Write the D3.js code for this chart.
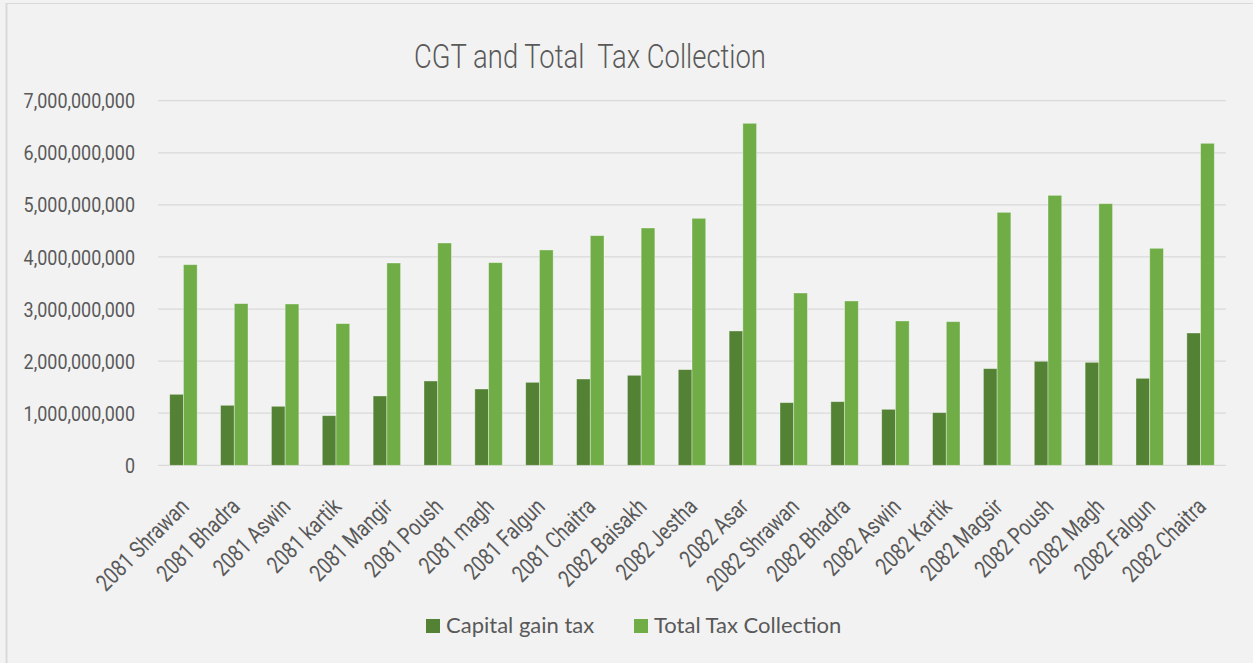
<!DOCTYPE html>
<html>
<head>
<meta charset="utf-8">
<script src="https://cdn.jsdelivr.net/npm/d3@7"></script>
<style>
  html, body { margin: 0; padding: 0; background: #f2f2f2; }
  svg { display: block; }
  .cond { font-family: Roboto, "Liberation Sans", sans-serif; }
</style>
</head>
<body>
<svg id="chart" width="1253" height="663"></svg>
<script>
// Monthly categories (Nepali fiscal months)
const categories = [
  "2081 Shrawan", "2081 Bhadra", "2081 Aswin", "2081 kartik", "2081 Mangir",
  "2081 Poush", "2081 magh", "2081 Falgun", "2081 Chaitra", "2082 Baisakh",
  "2082 Jestha", "2082 Asar", "2082 Shrawan", "2082 Bhadra", "2082 Aswin",
  "2082 Kartik", "2082 Magsir", "2082 Poush", "2082 Magh", "2082 Falgun",
  "2082 Chaitra"
];

// Capital gain tax collected each month
const capitalGainTax = [
  1363000000, 1152000000, 1133000000, 953000000, 1331000000,
  1619000000, 1465000000, 1593000000, 1657000000, 1728000000,
  1837000000, 2579000000, 1203000000, 1222000000, 1075000000,
  1011000000, 1856000000, 1997000000, 1977000000, 1670000000,
  2540000000
];

// Total tax collected each month
const totalTaxCollection = [
  3852000000, 3104000000, 3097000000, 2720000000, 3884000000,
  4268000000, 3891000000, 4134000000, 4409000000, 4556000000,
  4742000000, 6566000000, 3308000000, 3155000000, 2771000000,
  2758000000, 4857000000, 5183000000, 5023000000, 4166000000,
  6182000000
];

const seriesNames = ["Capital gain tax", "Total Tax Collection"];
const seriesColors = ["#548235", "#70AD47"];
const yTicks = [0, 1e9, 2e9, 3e9, 4e9, 5e9, 6e9, 7e9];

const svg = d3.select("#chart");
const W = 1253, H = 663;
const textColor = "#595959";

// Chart frame
svg.append("rect").attr("x", 0).attr("y", 0).attr("width", W).attr("height", H).attr("fill", "#f2f2f2");
svg.append("line").attr("x1", 6.5).attr("x2", W).attr("y1", 3.5).attr("y2", 3.5)
  .attr("stroke", "#d9d9d9").attr("stroke-width", 1);
svg.append("line").attr("x1", 6.5).attr("x2", 6.5).attr("y1", 3).attr("y2", H)
  .attr("stroke", "#d9d9d9").attr("stroke-width", 2);

const plot = { left: 158, right: 1226, top: 100.7, bottom: 465.3 };

const x = d3.scaleBand()
  .domain(categories)
  .range([plot.left, plot.right])
  .paddingInner(0.46)
  .paddingOuter(0.23);

const xSeries = d3.scaleBand()
  .domain(d3.range(seriesNames.length))
  .range([0, x.bandwidth()])
  .padding(0);

const y = d3.scaleLinear()
  .domain([0, 7e9])
  .range([plot.bottom, plot.top]);

// Horizontal gridlines
svg.append("g")
  .selectAll("line")
  .data(yTicks)
  .join("line")
  .attr("x1", plot.left).attr("x2", plot.right)
  .attr("y1", d => y(d)).attr("y2", d => y(d))
  .attr("stroke", "#d9d9d9").attr("stroke-width", 1.3);

// Y axis labels (horizontally compressed for a condensed face)
const fmt = d3.format(",");
svg.append("g")
  .attr("class", "cond")
  .selectAll("text")
  .data(yTicks)
  .join("text")
  .attr("transform", d => `translate(135,${y(d)}) scale(0.855,1)`)
  .attr("dy", "0.36em")
  .attr("text-anchor", "end")
  .attr("font-size", 21)
  .attr("fill", textColor)
  .text(d => fmt(d));

// Bars
const seriesData = [capitalGainTax, totalTaxCollection];
const groups = svg.append("g")
  .selectAll("g")
  .data(categories)
  .join("g")
  .attr("transform", d => `translate(${x(d)},0)`);

groups.selectAll("rect")
  .data((d, i) => seriesData.map((s, k) => ({ k, v: s[i] })))
  .join("rect")
  .attr("x", d => xSeries(d.k))
  .attr("width", xSeries.bandwidth())
  .attr("y", d => y(d.v))
  .attr("height", d => y(0) - y(d.v))
  .attr("fill", d => seriesColors[d.k])
  .attr("stroke", "rgba(255,255,255,0.45)")
  .attr("stroke-width", 0.8);

// X axis labels, rotated
svg.append("g")
  .attr("class", "cond")
  .selectAll("text")
  .data(categories)
  .join("text")
  .attr("transform", d => `translate(${x(d) + x.bandwidth() / 2 + 1},${plot.bottom + 37}) rotate(-45) scale(0.8,1)`)
  .attr("text-anchor", "end")
  .attr("dy", "0.35em")
  .attr("font-size", 23.5)
  .attr("fill", textColor)
  .text(d => d);

// Title
const title = svg.append("text")
  .attr("class", "cond")
  .attr("text-anchor", "middle")
  .attr("font-size", 33)
  .attr("font-weight", 300)
  .attr("fill", textColor)
  .style("white-space", "pre")
  .text("CGT and Total  Tax Collection");
const titleScale = 352 / title.node().getComputedTextLength();
title.attr("transform", `translate(590,68) scale(${titleScale},1)`);

// Legend
const legendX = [426, 634];
const legend = svg.append("g")
  .selectAll("g")
  .data(seriesNames)
  .join("g")
  .attr("transform", (d, i) => `translate(${legendX[i]},619)`);
legend.append("rect")
  .attr("width", 14).attr("height", 14)
  .attr("fill", (d, i) => seriesColors[i]);
legend.append("text")
  .attr("x", 20).attr("y", 14)
  .attr("font-family", "Lato, 'Open Sans', sans-serif")
  .attr("font-size", 22)
  .attr("fill", textColor)
  .text(d => d);
</script>
</body>
</html>
